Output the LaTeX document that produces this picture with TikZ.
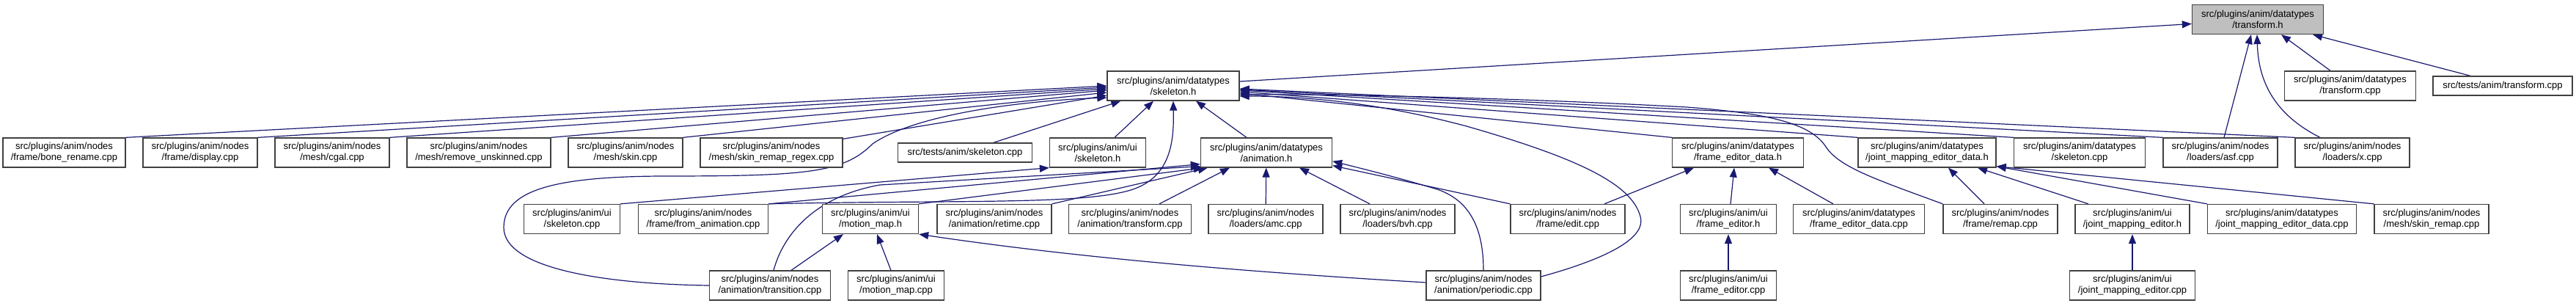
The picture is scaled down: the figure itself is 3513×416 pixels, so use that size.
\documentclass[tikz,border=0pt]{standalone}
\usepackage{fontspec}
\setmainfont{Liberation Sans}
\usetikzlibrary{arrows.meta,calc,backgrounds}
\definecolor{edgeblue}{HTML}{191970}
\definecolor{nodegray}{HTML}{BFBFBF}
\newcommand{\filefont}{\fontsize{13}{15}\selectfont}
\tikzset{
  file/.style={draw=black!75, line width=1.3pt, fill=white, align=center, inner sep=0pt, minimum height=40pt, font=\filefont},
  oneline/.style={file, minimum height=26pt},
  inc/.style={draw=edgeblue, line width=1.2pt, -{Triangle[length=13pt,width=10pt]}},
}
\begin{document}
\begin{tikzpicture}[x=1pt,y=-1pt]
    \useasboundingbox (0,0) rectangle (3513,416);

    % headers on top
    \node[file,fill=nodegray,minimum width=179pt] (transformh) at (3079,26.5) {src/plugins/anim/datatypes\\/transform.h};
    \node[file,minimum width=180pt] (skeletonh) at (1600,117) {src/plugins/anim/datatypes\\/skeleton.h};
    \node[file,minimum width=179pt] (dtransformcpp) at (3205,117) {src/plugins/anim/datatypes\\/transform.cpp};
    \node[oneline,minimum width=190pt] (teststransformcpp) at (3413,117) {src/tests/anim/transform.cpp};

    % second row
    \node[file,minimum width=167pt] (bonerename) at (87.5,208) {src/plugins/anim/nodes\\/frame/bone\_rename.cpp};
    \node[file,minimum width=156pt] (framedisplay) at (273,208) {src/plugins/anim/nodes\\/frame/display.cpp};
    \node[file,minimum width=156pt] (meshcgal) at (453,208) {src/plugins/anim/nodes\\/mesh/cgal.cpp};
    \node[file,minimum width=196pt] (removeunskinned) at (653,208) {src/plugins/anim/nodes\\/mesh/remove\_unskinned.cpp};
    \node[file,minimum width=156pt] (meshskin) at (853,208) {src/plugins/anim/nodes\\/mesh/skin.cpp};
    \node[file,minimum width=194pt] (skinremapregex) at (1052,208) {src/plugins/anim/nodes\\/mesh/skin\_remap\_regex.cpp};
    \node[oneline,minimum width=183pt] (testsskeletoncpp) at (1316,208) {src/tests/anim/skeleton.cpp};
    \node[file,minimum width=131pt] (uiskeletonh) at (1497,208) {src/plugins/anim/ui\\/skeleton.h};
    \node[file,minimum width=179pt] (animationh) at (1727,208) {src/plugins/anim/datatypes\\/animation.h};
    \node[file,minimum width=179pt] (frameeditordatah) at (2370,208) {src/plugins/anim/datatypes\\/frame\_editor\_data.h};
    \node[file,minimum width=188pt] (jmeditordatah) at (2628,208) {src/plugins/anim/datatypes\\/joint\_mapping\_editor\_data.h};
    \node[file,minimum width=179pt] (dskeletoncpp) at (2836,208) {src/plugins/anim/datatypes\\/skeleton.cpp};
    \node[file,minimum width=156pt] (loadersasf) at (3028,208) {src/plugins/anim/nodes\\/loaders/asf.cpp};
    \node[file,minimum width=156pt] (loadersx) at (3208,208) {src/plugins/anim/nodes\\/loaders/x.cpp};

    % third row
    \node[file,minimum width=131pt] (uiskeletoncpp) at (780,298.5) {src/plugins/anim/ui\\/skeleton.cpp};
    \node[file,minimum width=177pt] (fromanimation) at (959,298.5) {src/plugins/anim/nodes\\/frame/from\_animation.cpp};
    \node[file,minimum width=131pt] (motionmaph) at (1187,298.5) {src/plugins/anim/ui\\/motion\_map.h};
    \node[file,minimum width=156pt] (animretime) at (1356,298.5) {src/plugins/anim/nodes\\/animation/retime.cpp};
    \node[file,minimum width=167pt] (animtransform) at (1541,298.5) {src/plugins/anim/nodes\\/animation/transform.cpp};
    \node[file,minimum width=156pt] (loadersamc) at (1726,298.5) {src/plugins/anim/nodes\\/loaders/amc.cpp};
    \node[file,minimum width=156pt] (loadersbvh) at (1906,298.5) {src/plugins/anim/nodes\\/loaders/bvh.cpp};
    \node[file,minimum width=156pt] (frameedit) at (2138,298.5) {src/plugins/anim/nodes\\/frame/edit.cpp};
    \node[file,minimum width=131pt] (frameeditorh) at (2357,298.5) {src/plugins/anim/ui\\/frame\_editor.h};
    \node[file,minimum width=179pt] (frameeditordatacpp) at (2535,298.5) {src/plugins/anim/datatypes\\/frame\_editor\_data.cpp};
    \node[file,minimum width=156pt] (frameremap) at (2728,298.5) {src/plugins/anim/nodes\\/frame/remap.cpp};
    \node[file,minimum width=156pt] (jmeditorh) at (2908,298.5) {src/plugins/anim/ui\\/joint\_mapping\_editor.h};
    \node[file,minimum width=203pt] (jmeditordatacpp) at (3112,298.5) {src/plugins/anim/datatypes\\/joint\_mapping\_editor\_data.cpp};
    \node[file,minimum width=156pt] (skinremap) at (3316,298.5) {src/plugins/anim/nodes\\/mesh/skin\_remap.cpp};

    % bottom row
    \node[file,minimum width=165pt] (animtransition) at (1050,389) {src/plugins/anim/nodes\\/animation/transition.cpp};
    \node[file,minimum width=131pt] (motionmapcpp) at (1222,389) {src/plugins/anim/ui\\/motion\_map.cpp};
    \node[file,minimum width=156pt] (animperiodic) at (2023,389) {src/plugins/anim/nodes\\/animation/periodic.cpp};
    \node[file,minimum width=131pt] (frameeditorcpp) at (2357,389) {src/plugins/anim/ui\\/frame\_editor.cpp};
    \node[file,minimum width=171pt] (jmeditorcpp) at (2908,389) {src/plugins/anim/ui\\/joint\_mapping\_editor.cpp};

    \begin{pgfonlayer}{background}
    % into transform.h
    \draw[inc] ($(skeletonh.east)+(0,-6)$) -- ($(transformh.west)+(0,6)$);
    \draw[inc] ($(dtransformcpp.north)+(-27,0)$) -- ($(transformh.south)+(32,0)$);
    \draw[inc] ($(teststransformcpp.north)+(-44,0)$) -- ($(transformh.south)+(75,0)$);
    \draw[inc] ($(loadersasf.north)+(5,0)$) -- ($(transformh.south)+(-9,0)$);
    \draw[inc] ($(loadersx.north)+(-44,0)$) .. controls (3110,160) and (3080,120) .. ($(transformh.south)+(-1,0)$);

    % into skeleton.h
    \draw[inc] (bonerename.north east) -- (skeletonh.west);
    \draw[inc] (framedisplay.north east) -- ($(skeletonh.west)+(0,2)$);
    \draw[inc] (meshcgal.north east) -- ($(skeletonh.west)+(0,4)$);
    \draw[inc] (removeunskinned.north east) -- ($(skeletonh.west)+(0,6)$);
    \draw[inc] (meshskin.north east) -- ($(skeletonh.west)+(0,9)$);
    \draw[inc] ($(skinremapregex.north east)+(0,2)$) -- ($(skeletonh.west)+(0,13)$);
    \draw[inc] (animtransition.west) .. controls (820,387) and (687,365) .. (687,310) .. controls (687,258) and (760,241) .. (900,240) .. controls (1100,240) and (1150,236) .. (1190,196) .. controls (1245,158) and (1380,138) .. ($(skeletonh.west)+(0,16)$);
    \draw[inc] ($(testsskeletoncpp.north)+(39,0)$) -- ($(skeletonh.south west)+(19,0)$);
    \draw[inc] ($(uiskeletonh.north)+(23,0)$) -- ($(skeletonh.south)+(-27,0)$);
    \draw[inc] (fromanimation.north east) .. controls (1300,272) and (1480,280) .. (1545,258) .. controls (1598,240) and (1601,190) .. (skeletonh.south);
    \draw[inc] ($(animationh.north)+(-27,0)$) -- ($(skeletonh.south)+(31,0)$);
    \draw[inc] (frameeditordatah.north west) -- ($(skeletonh.east)+(0,10)$);
    \draw[inc] (jmeditordatah.north west) -- ($(skeletonh.east)+(0,8)$);
    \draw[inc] (dskeletoncpp.north west) -- ($(skeletonh.east)+(0,6)$);
    \draw[inc] (loadersasf.north west) -- ($(skeletonh.east)+(0,5)$);
    \draw[inc] (loadersx.north west) -- ($(skeletonh.east)+(0,4)$);
    \draw[inc] (frameremap.north west) .. controls (2560,245) and (2508,228) .. (2490,200) .. controls (2470,170) and (2420,155) .. (2300,146) .. controls (2100,135) and (1850,128) .. ($(skeletonh.east)+(0,12)$);
    \draw[inc] ($(animperiodic.east)+(0,-12)$) .. controls (2200,350) and (2245,322) .. (2237,295) .. controls (2225,250) and (2150,215) .. (2000,172) .. controls (1880,140) and (1780,131) .. ($(skeletonh.east)+(0,14)$);

    % into ui/skeleton.h
    \draw[inc] (uiskeletoncpp.north east) -- (uiskeletonh.south west);

    % into animation.h
    \draw[inc] (fromanimation.north east) -- ($(animationh.south west)+(0,-5)$);
    \draw[inc] ($(animtransition.north)+(5,0)$) .. controls (1068,320) and (1110,268) .. (1200,252) -- ($(animationh.south west)+(0,-2)$);
    \draw[inc] (motionmaph.north east) -- ($(animationh.south west)+(4,0)$);
    \draw[inc] (animretime.north east) -- ($(animationh.south west)+(10,0)$);
    \draw[inc] ($(animtransform.north)+(40,0)$) -- ($(animationh.south)+(-50,0)$);
    \draw[inc] (loadersamc) -- (animationh);
    \draw[inc] ($(loadersbvh.north)+(-38,0)$) -- ($(animationh.south)+(45,0)$);
    \draw[inc] (frameedit.north west) -- ($(animationh.south east)+(0,-3)$);
    \draw[inc] (animperiodic.north) .. controls (2023,320) and (2010,275) .. (1960,258) .. controls (1900,240) and (1850,228) .. ($(animationh.south east)+(0,-9)$);

    % into motion_map.h
    \draw[inc] ($(animtransition.north)+(29,0)$) -- ($(motionmaph.south)+(-37,0)$);
    \draw[inc] ($(motionmapcpp.north)+(-7,0)$) -- ($(motionmaph.south)+(9,0)$);
    \draw[inc] ($(animperiodic.west)+(0,-4)$) .. controls (1760,374) and (1500,356) .. (motionmaph.south east);

    % into frame_editor_data.h and frame_editor.h
    \draw[inc] ($(frameedit.north)+(50,0)$) -- ($(frameeditordatah.south)+(-60,0)$);
    \draw[inc] ($(frameeditorh.north)+(3,0)$) -- ($(frameeditordatah.south)+(-5,0)$);
    \draw[inc] ($(frameeditordatacpp.north)+(-35,0)$) -- ($(frameeditordatah.south)+(42,0)$);
    \draw[inc] (frameeditorcpp) -- (frameeditorh);

    % into joint_mapping_editor_data.h and joint_mapping_editor.h
    \draw[inc] ($(frameremap.north)+(-22,0)$) -- ($(jmeditordatah.south)+(29,0)$);
    \draw[inc] ($(jmeditorh.north)+(-60,0)$) -- ($(jmeditordatah.south)+(69,0)$);
    \draw[inc] (jmeditordatacpp.north west) -- ($(jmeditordatah.south east)+(0,-2)$);
    \draw[inc] (skinremap.north west) -- ($(jmeditordatah.south east)+(0,-2)$);
    \draw[inc] (jmeditorcpp) -- (jmeditorh);
    \end{pgfonlayer}
\end{tikzpicture}
\end{document}
